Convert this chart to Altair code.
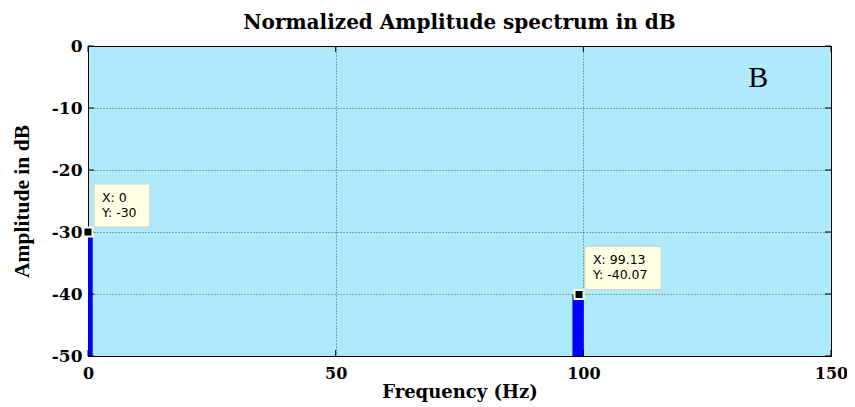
import altair as alt
import pandas as pd

# ---- data ----
title_text = "Normalized Amplitude spectrum in dB"
x_title = "Frequency (Hz)"
y_title = "Amplitude in dB"
x_ticks = [0, 50, 100, 150]
y_ticks = [-50, -40, -30, -20, -10, 0]

bar_start = [0.0, 97.8]
bar_end = [0.95, 100.1]
bar_top = [-30.0, -40.07]

tip_x = [0.0, 99.13]
tip_y = [-30.0, -40.07]
tip_xlabel = ["X: 0", "X: 99.13"]
tip_ylabel = ["Y: -30", "Y: -40.07"]

panel_label = ["B"]
panel_x = [135.3]
panel_y = [-6.6]

# ---- tables ----
x_dom = [min(x_ticks), max(x_ticks)]
y_dom = [min(y_ticks), max(y_ticks)]

bars = pd.DataFrame({"f0": bar_start, "f1": bar_end, "top": bar_top,
                     "base": [y_dom[0]] * len(bar_top)})
tips = pd.DataFrame({"x": tip_x, "y": tip_y,
                     "label": [a + "\n" + b for a, b in zip(tip_xlabel, tip_ylabel)]})
panel = pd.DataFrame({"x": panel_x, "y": panel_y, "t": panel_label})
yt = pd.DataFrame({"v": y_ticks, "lo": [x_dom[0]] * len(y_ticks), "hi": [x_dom[1]] * len(y_ticks)})
xt = pd.DataFrame({"v": x_ticks, "lo": [y_dom[0]] * len(x_ticks), "hi": [y_dom[1]] * len(x_ticks)})

xs = alt.Scale(domain=x_dom, nice=False, zero=False)
ys = alt.Scale(domain=y_dom, nice=False, zero=False)

SERIF = "DejaVu Serif"

x_axis = alt.Axis(values=x_ticks, title=x_title, grid=True, ticks=False, domain=False,
                  labelFlush=False, labelPadding=9, titlePadding=2,
                  labelFontSize=16,
                  labelExpr="'' + datum.value")
y_axis = alt.Axis(values=y_ticks, title=y_title, grid=True, ticks=False, domain=False,
                  labelFlush=False, labelPadding=6, titlePadding=18,
                  labelExpr="'' + datum.value",
                  titleFont="Liberation Serif", titleFontSize=21.5)

bar_layer = alt.Chart(bars).mark_rect(color="#0000FF").encode(
    x=alt.X("f0:Q", scale=xs, axis=x_axis),
    x2="f1:Q",
    y=alt.Y("top:Q", scale=ys, axis=y_axis),
    y2="base:Q",
)

TICK = 6
tick_layers = [
    alt.Chart(yt).mark_rule(color="black", strokeWidth=1, x2Offset=TICK).encode(
        x=alt.X("lo:Q", scale=xs), x2="lo:Q", y=alt.Y("v:Q", scale=ys)),
    alt.Chart(yt).mark_rule(color="black", strokeWidth=1, xOffset=-TICK).encode(
        x=alt.X("hi:Q", scale=xs), x2="hi:Q", y=alt.Y("v:Q", scale=ys)),
    alt.Chart(xt).mark_rule(color="black", strokeWidth=1, y2Offset=-TICK).encode(
        y=alt.Y("lo:Q", scale=ys), y2="lo:Q", x=alt.X("v:Q", scale=xs)),
    alt.Chart(xt).mark_rule(color="black", strokeWidth=1, yOffset=TICK).encode(
        y=alt.Y("hi:Q", scale=ys), y2="hi:Q", x=alt.X("v:Q", scale=xs)),
]

layers = [bar_layer] + tick_layers

for i in range(len(tips)):
    maxlen = max(len(tip_xlabel[i]), len(tip_ylabel[i]))
    w = 15 + 6.8 * maxlen
    sub = tips.iloc[[i]]
    box = alt.Chart(sub).mark_rect(
        fill="#FFFFE4", stroke="#D2D2C0", strokeWidth=1,
        xOffset=6, x2Offset=6 + w, yOffset=-48, y2Offset=-5,
    ).encode(x=alt.X("x:Q", scale=xs), x2="x:Q",
             y=alt.Y("y:Q", scale=ys), y2="y:Q")
    layers.append(box)

tip_text = alt.Chart(tips).mark_text(
    align="left", baseline="alphabetic", dx=14, dy=-30, lineBreak="\n",
    lineHeight=15, font="DejaVu Sans", fontSize=12.5, color="black",
).encode(x=alt.X("x:Q", scale=xs), y=alt.Y("y:Q", scale=ys), text="label:N")

markers = alt.Chart(tips).mark_square(
    size=81, fill="black", stroke="#FFFFDC", strokeWidth=2, opacity=1,
).encode(x=alt.X("x:Q", scale=xs), y=alt.Y("y:Q", scale=ys))

panel_text = alt.Chart(panel).mark_text(
    align="center", baseline="alphabetic", font="Liberation Serif", fontSize=30,
    color="black",
).encode(x=alt.X("x:Q", scale=xs), y=alt.Y("y:Q", scale=ys), text="t:N")

layers += [tip_text, markers, panel_text]

chart = alt.layer(*layers).properties(
    width=743, height=310,
    autosize=alt.AutoSizeParams(type="none"),
    padding={"left": 80, "top": 38, "right": 16, "bottom": 49},
    title=alt.TitleParams(title_text, font=SERIF, fontSize=20, fontWeight="bold",
                          color="black", anchor="middle", offset=4),
    background="white",
).configure_view(
    fill="#AEEAFB", stroke="black", strokeWidth=1,
).configure_axis(
    gridColor="black", gridDash=[1, 2], gridOpacity=0.6, gridWidth=1,
    labelFont=SERIF, labelFontWeight="bold", labelFontSize=17, labelColor="black",
    titleFont=SERIF, titleFontWeight="bold", titleFontSize=18, titleColor="black",
)

chart.save("out.html", embed_options={"renderer": "svg", "actions": False})
